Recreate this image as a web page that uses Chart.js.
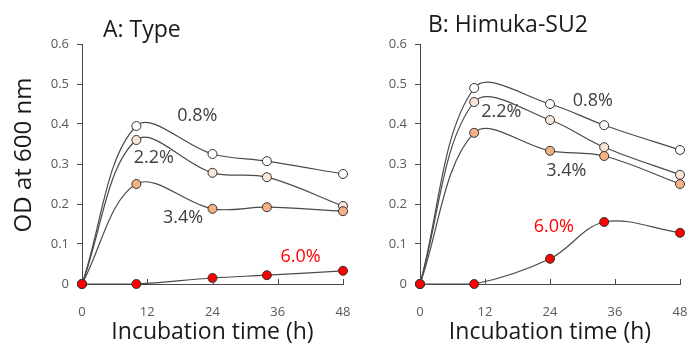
<!DOCTYPE html>
<html>
<head>
<meta charset="utf-8">
<script src="https://cdn.jsdelivr.net/npm/chart.js@4/dist/chart.umd.min.js"></script>
<style>
  html, body { margin: 0; padding: 0; background: #fff; }
  #wrap { position: relative; width: 689px; height: 347px; overflow: hidden; }
  .panel { position: absolute; top: 0; }
  #panelA { left: 0; width: 350px; height: 347px; }
  #panelB { left: 345px; width: 344px; height: 347px; }
</style>
</head>
<body>
<div id="wrap">
  <div class="panel" id="panelA"><canvas id="chartA"></canvas></div>
  <div class="panel" id="panelB"><canvas id="chartB"></canvas></div>
</div>
<script>
// ===== data =====
const hours = [0, 10, 24, 34, 48];
const xTicks = [0, 12, 24, 36, 48];
const yTicks = [0, 0.1, 0.2, 0.3, 0.4, 0.5, 0.6];
const saltLevels = ['0.8%', '2.2%', '3.4%', '6.0%'];

// A: Type
const typeOD08 = [0, 0.395, 0.325, 0.307, 0.275];
const typeOD22 = [0, 0.360, 0.278, 0.267, 0.195];
const typeOD34 = [0, 0.250, 0.188, 0.192, 0.182];
const typeOD60 = [0, 0.000, 0.015, 0.022, 0.033];

// B: Himuka-SU2
const himukaOD08 = [0, 0.490, 0.450, 0.397, 0.335];
const himukaOD22 = [0, 0.455, 0.410, 0.342, 0.273];
const himukaOD34 = [0, 0.378, 0.333, 0.320, 0.250];
const himukaOD60 = [0, 0.000, 0.063, 0.155, 0.128];

// ===== styles =====
const pointFills = ['#ffffff', '#fbe5d6', '#f4b183', '#ff0000'];
const labelColors = ['#404040', '#404040', '#404040', '#ff0000'];
const lineColor = '#4a4a4a';
const axisColor = '#4a4a4a';
const FONT = "'Open Sans', 'Noto Sans', sans-serif";

function makeDatasets(series) {
  return series.map((vals, i) => ({
    label: saltLevels[i],
    data: hours.map((h, j) => ({ x: h, y: vals[j] })),
    showLine: true,
    borderColor: lineColor,
    borderWidth: 1.2,
    tension: 0.35,
    pointRadius: 4.5,
    pointBackgroundColor: pointFills[i],
    pointBorderColor: '#333333',
    pointBorderWidth: 1,
    order: series.length - i,
    clip: false
  }));
}

// 패널 텍스트 (제목, 농도 라벨, y축 제목) + 안쪽 눈금
const panelText = {
  id: 'panelText',
  afterDraw(chart, args, opts) {
    const ctx = chart.ctx;
    const xs = chart.scales.x, ys = chart.scales.y;
    ctx.save();
    // x 축 눈금 (안쪽)
    ctx.strokeStyle = axisColor;
    ctx.lineWidth = 1;
    xTicks.forEach(t => {
      if (t === 0) return;
      const px = Math.round(xs.getPixelForValue(t)) + 0.5;
      const py = ys.getPixelForValue(0);
      ctx.beginPath();
      ctx.moveTo(px, py);
      ctx.lineTo(px, py - 5);
      ctx.stroke();
    });
    // 제목
    ctx.fillStyle = '#1a1a1a';
    ctx.font = '23px ' + FONT;
    ctx.textAlign = 'left';
    ctx.textBaseline = 'alphabetic';
    ctx.fillText(opts.title, opts.titleX, opts.titleY);
    // y 축 제목
    if (opts.yTitle) {
      ctx.save();
      ctx.translate(24, 155);
      ctx.rotate(-Math.PI / 2);
      ctx.font = '24px ' + FONT;
      ctx.textAlign = 'center';
      ctx.textBaseline = 'middle';
      ctx.fillText(opts.yTitle, 0, 0);
      ctx.restore();
    }
    // 농도 라벨
    ctx.font = '18px ' + FONT;
    ctx.textAlign = 'center';
    ctx.textBaseline = 'middle';
    opts.labels.forEach((lb, i) => {
      ctx.fillStyle = labelColors[i];
      ctx.fillText(saltLevels[i], xs.getPixelForValue(lb[0]), ys.getPixelForValue(lb[1]));
    });
    ctx.restore();
  }
};

function makeChart(canvasId, series, cfg) {
  return new Chart(document.getElementById(canvasId), {
    type: 'scatter',
    data: { datasets: makeDatasets(series) },
    plugins: [panelText],
    options: {
      responsive: true,
      maintainAspectRatio: false,
      animation: false,
      layout: { autoPadding: false, padding: { top: 44, right: cfg.padRight, bottom: 0, left: 0 } },
      plugins: {
        legend: { display: false },
        tooltip: { enabled: false },
        panelText: { title: cfg.title, titleX: cfg.titleX, titleY: cfg.titleY, labels: cfg.labels, yTitle: cfg.yTitle }
      },
      scales: {
        x: {
          type: 'linear',
          min: 0, max: 48,
          afterBuildTicks: s => { s.ticks = xTicks.map(v => ({ value: v })); },
          afterFit: s => { s.height = 347 - 284; s.paddingLeft = 0; s.paddingRight = 0; },
          grid: { display: false },
          border: { color: axisColor, width: 1 },
          ticks: { color: '#595959', font: { family: FONT, size: 13 }, padding: 12, maxRotation: 0 },
          title: {
            display: true, text: 'Incubation time (h)', color: '#1a1a1a',
            font: { family: FONT, size: 23 }, padding: { top: 0, bottom: 1 }
          }
        },
        y: {
          min: 0, max: 0.6,
          afterBuildTicks: s => { s.ticks = yTicks.map(v => ({ value: v })); },
          afterFit: s => { s.width = cfg.yWidth; s.paddingTop = 0; s.paddingBottom = 0; },
          grid: { drawOnChartArea: false, drawTicks: true, tickLength: 5, color: axisColor },
          border: { color: axisColor, width: 1 },
          ticks: {
            color: '#595959', font: { family: FONT, size: 13 }, padding: 8,
            callback: v => String(Math.round(v * 10) / 10)
          }
        }
      }
    }
  });
}

makeChart('chartA', [typeOD08, typeOD22, typeOD34, typeOD60], {
  title: 'A: Type', titleX: 103, titleY: 37,
  padRight: 7, yWidth: 82, yTitle: 'OD at 600 nm',
  labels: [[21.2, 0.42], [13.2, 0.315], [18.6, 0.165], [40.2, 0.068]]
});

makeChart('chartB', [himukaOD08, himukaOD22, himukaOD34, himukaOD60], {
  title: 'B: Himuka-SU2', titleX: 83, titleY: 32,
  padRight: 9, yWidth: 75, yTitle: null,
  labels: [[31.9, 0.458], [15.0, 0.43], [27.0, 0.283], [24.7, 0.143]]
});
</script>
</body>
</html>
